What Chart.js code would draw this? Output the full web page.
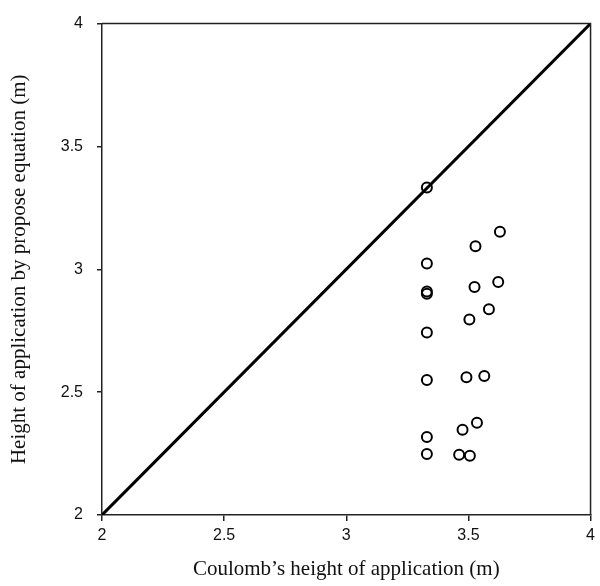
<!DOCTYPE html>
<html>
<head>
<meta charset="utf-8">
<script src="https://cdn.jsdelivr.net/npm/chart.js@4"></script>
<style>
  html, body { margin: 0; padding: 0; background: #fff; }
  #wrap { width: 600px; height: 586px; }
</style>
</head>
<body>
<div id="wrap"><canvas id="chart" width="600" height="586"></canvas></div>
<script>
// Coulomb height vs proposed equation height (m)
const coulombHeight = [3.33, 3.33, 3.33, 3.33, 3.33, 3.33, 3.33, 3.33,
    3.629, 3.529, 3.525, 3.622, 3.584, 3.504, 3.492, 3.565, 3.476, 3.535, 3.462, 3.506];
const proposedHeight = [3.333, 3.024, 2.910, 2.900, 2.743, 2.549, 2.317, 2.248,
    3.153, 3.094, 2.928, 2.948, 2.837, 2.796, 2.561, 2.566, 2.347, 2.375, 2.245, 2.241];
const equalityLine = [2, 4];
const tickValues = [2, 2.5, 3, 3.5, 4];

const points = coulombHeight.map((x, i) => ({ x: x, y: proposedHeight[i] }));
const linePoints = equalityLine.map(v => ({ x: v, y: v }));

// draw top and right edges of the plot box
const boxPlugin = {
    id: 'box',
    afterDraw(chart) {
        const a = chart.chartArea;
        const ctx = chart.ctx;
        ctx.save();
        ctx.strokeStyle = '#222';
        ctx.lineWidth = 1.5;
        ctx.beginPath();
        ctx.moveTo(a.left, a.top);
        ctx.lineTo(a.right, a.top);
        ctx.lineTo(a.right, a.bottom);
        ctx.stroke();
        ctx.restore();
    }
};

const tickFont = { family: 'Liberation Sans', size: 16 };
const titleFont = { family: 'Liberation Serif', size: 21 };
const fmt = v => String(v);

new Chart(document.getElementById('chart'), {
    type: 'scatter',
    data: {
        datasets: [{
            data: linePoints,
            showLine: true,
            borderColor: '#000',
            borderWidth: 3,
            pointRadius: 0,
            order: 2
        }, {
            data: points,
            borderColor: '#000',
            backgroundColor: 'rgba(255,255,255,0)',
            borderWidth: 2,
            pointRadius: 5,
            order: 1
        }]
    },
    options: {
        responsive: false,
        animation: false,
        layout: { padding: { top: 17, right: 8, left: 0, bottom: 0 } },
        plugins: { legend: { display: false }, tooltip: { enabled: false } },
        scales: {
            x: {
                type: 'linear',
                min: 2, max: 4,
                afterBuildTicks: s => { s.ticks = tickValues.map(v => ({ value: v })); },
                afterFit: s => { s.height = 71; },
                grid: { drawOnChartArea: false, drawTicks: true, tickLength: 6, color: '#222', lineWidth: 1.5 },
                border: { display: true, color: '#222', width: 1.5 },
                ticks: { color: '#111', font: tickFont, padding: 5, maxRotation: 0, callback: fmt },
                title: { display: true, text: 'Coulomb\u2019s height of application (m)', color: '#111', font: titleFont, padding: { top: 0, bottom: 4 } }
            },
            y: {
                type: 'linear',
                min: 2, max: 4,
                afterBuildTicks: s => { s.ticks = tickValues.map(v => ({ value: v })); },
                afterFit: s => { s.width = 102; },
                grid: { drawOnChartArea: false, drawTicks: true, tickLength: 5, color: '#222', lineWidth: 1.5 },
                border: { display: true, color: '#222', width: 1.5 },
                ticks: { color: '#111', font: tickFont, padding: 14, callback: fmt },
                title: { display: true, text: 'Height of application by propose equation (m)', color: '#111', font: titleFont, padding: { top: 7, bottom: 0 } }
            }
        }
    },
    plugins: [boxPlugin]
});
</script>
</body>
</html>
